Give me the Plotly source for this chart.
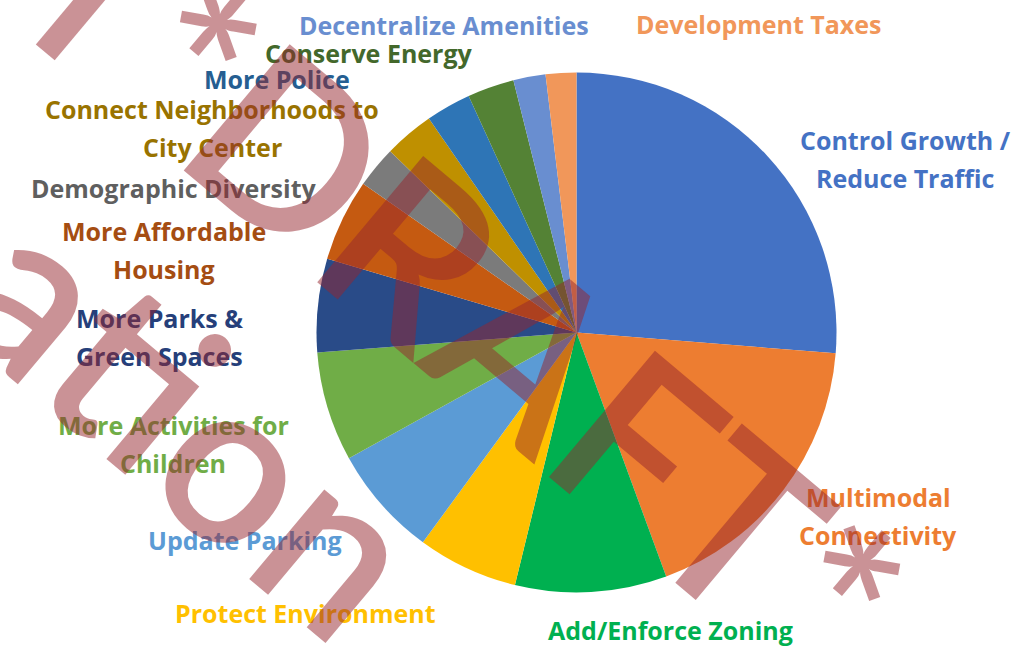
import plotly.graph_objects as go

# ---------------- data ----------------
categories = [
    "Control Growth / Reduce Traffic", "Multimodal Connectivity", "Add/Enforce Zoning",
    "Protect Environment", "Update Parking", "More Activities for Children",
    "More Parks & Green Spaces", "More Affordable Housing", "Demographic Diversity",
    "Connect Neighborhoods to City Center", "More Police", "Conserve Energy",
    "Decentralize Amenities", "Development Taxes",
]
values = [26.25, 18.1, 9.4, 6.25, 6.9, 6.8, 5.8, 5.1, 2.6, 3.1, 2.8, 2.9, 2.0, 1.9]
label_text = [
    "Control Growth /<br>Reduce Traffic", "Multimodal<br>Connectivity", "Add/Enforce Zoning",
    "Protect Environment", "Update Parking", "More Activities for<br>Children",
    "More Parks &<br>Green Spaces", "More Affordable<br>Housing", "Demographic Diversity",
    "Connect Neighborhoods to<br>City Center", "More Police", "Conserve Energy",
    "Decentralize Amenities", "Development Taxes",
]

# ---------------- styles / layout ----------------
W, H = 1033, 647
slice_colors = ["#4472C4", "#ED7D31", "#00B050", "#FFC000", "#5B9BD5", "#70AD47",
                "#294B88", "#C55A11", "#7B7B7B", "#BF9000", "#2E75B6", "#548235",
                "#698ED0", "#F1975A"]
label_colors = ["#4472C4", "#ED7D31", "#00B050", "#FFC000", "#5B9BD5", "#70AD47",
                "#263F7A", "#A54D12", "#5F5F5F", "#997300", "#255E91", "#43682B",
                "#698ED0", "#F1975A"]
# label centres in pixels
label_pos = [(905, 159), (878, 516), (670, 630), (305, 613), (245, 540), (173, 444),
             (159, 337), (164, 250), (173, 188), (212, 128), (277, 79), (369, 53),
             (444, 25), (759, 24)]
LINE_H = 38

cx, cy, r = 576.5, 332.5, 260

fig = go.Figure(go.Pie(
    labels=categories, values=values, sort=False, direction="clockwise", rotation=0,
    marker=dict(colors=slice_colors, line=dict(width=0)),
    textinfo="none", hoverinfo="label+percent", showlegend=False,
    domain=dict(x=[(cx - r) / W, (cx + r) / W], y=[1 - (cy + r) / H, 1 - (cy - r) / H]),
))

annotations = []
for txt, col, (px, py) in zip(label_text, label_colors, label_pos):
    lines = txt.split("<br>")
    n = len(lines)
    for i, ln in enumerate(lines):
        yy = py + (i - (n - 1) / 2) * LINE_H
        annotations.append(dict(
            text=ln, x=px / W, y=1 - yy / H, xref="paper", yref="paper",
            xanchor="center", yanchor="middle", showarrow=False,
            font=dict(family="Open Sans", size=25, color=col, weight="bold"),
        ))

# watermark
wm_font = dict(family="Lato", size=229, color="rgba(150,38,45,0.5)", weight=600)
for t, (px, py) in [("*DRAFT*", (510, 328)), ("ation", (195, 417)), ("l", (102, -15))]:
    annotations.append(dict(
        text=t, x=px / W, y=1 - py / H, xref="paper", yref="paper",
        xanchor="center", yanchor="middle", showarrow=False, textangle=40,
        font=wm_font,
    ))

fig.update_layout(
    width=W, height=H, margin=dict(l=0, r=0, t=0, b=0),
    paper_bgcolor="white", plot_bgcolor="white",
    annotations=annotations,
)
fig.write_html(
    "out.html",
    config={"displayModeBar": False},
    post_script="document.body.style.margin='0';document.body.style.overflow='hidden';",
)
